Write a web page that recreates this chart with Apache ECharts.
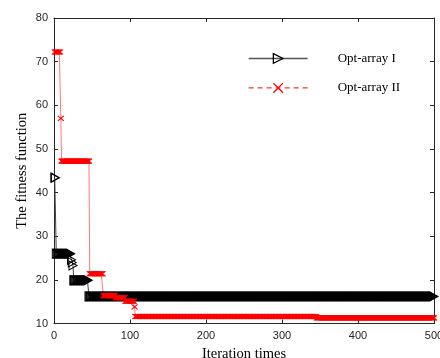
<!DOCTYPE html>
<html><head><meta charset="utf-8">
<script src="https://cdn.jsdelivr.net/npm/echarts@6/dist/echarts.min.js"></script>
<style>html,body{margin:0;padding:0;background:#fff}#c{width:440px;height:358px}</style>
</head><body><div id="c"></div>
<script>
const seriesNames = ['Opt-array I', 'Opt-array II'];
const xTicks = [0, 100, 200, 300, 400, 500];
const yTicks = [10, 20, 30, 40, 50, 60, 70, 80];
const xTitle = 'Iteration times';
const yTitle = 'The fitness function';
// Step curves: iteration at which each fitness level begins, and the level
const arr1Start = [1, 3, 23, 24, 25, 26, 46];
const arr1Value = [43.4, 26.0, 24.6, 24.0, 23.3, 19.9, 16.2];
const arr2Start = [1, 9, 10, 47, 65, 81, 94, 106, 107, 346];
const arr2Value = [72.2, 57.0, 47.2, 21.4, 16.4, 15.9, 15.1, 13.8, 11.6, 11.3];
const lastIter = 500;

function expand(starts, values) {
  const out = [];
  let k = 0;
  for (let it = starts[0]; it <= lastIter; it++) {
    while (k + 1 < starts.length && starts[k + 1] <= it) k++;
    out.push([it, values[k]]);
  }
  return out;
}
const data1 = expand(arr1Start, arr1Value);
const data2 = expand(arr2Start, arr2Value);

const axisColor = '#262626';
const triPath = 'path://M0,0 L10,5 L0,10 Z';
const xPath = 'path://M0,0 L10,10 M10,0 L0,10';

const chart = echarts.init(document.getElementById('c'), null, {renderer: 'canvas'});
chart.setOption({
  animation: false,
  backgroundColor: '#fff',
  grid: {left: 54, right: 6, top: 18, bottom: 34.5, containLabel: false, outerBoundsMode: 'none'},
  legend: {
    left: 243, top: 47, orient: 'vertical',
    itemWidth: 59, itemHeight: 12, itemGap: 16.4,
    textStyle: {fontFamily: 'Liberation Serif', fontSize: 13, color: '#000', padding: [0, 0, 0, 25]},
    data: [
      {name: seriesNames[0], itemStyle: {color: 'rgba(0,0,0,0)', borderColor: '#000', borderWidth: 1.3}, lineStyle: {color: '#555', width: 1.3, type: 'solid'}},
      {name: seriesNames[1], itemStyle: {color: '#f00', borderColor: '#f00', borderWidth: 1.3}, lineStyle: {color: '#f00', width: 1, type: [5, 4]}}
    ]
  },
  xAxis: [{
    type: 'value', min: 0, max: 500, interval: 100,
    name: xTitle, nameLocation: 'middle', nameGap: 22,
    nameTextStyle: {fontFamily: 'Liberation Serif', fontSize: 14.5, color: '#000'},
    axisLine: {show: true, onZero: false, lineStyle: {color: axisColor, width: 1}},
    axisTick: {show: true, inside: true, length: 4, lineStyle: {color: axisColor}},
    axisLabel: {fontFamily: 'Liberation Sans', fontSize: 11, color: axisColor, margin: 7,
      formatter: v => xTicks.includes(v) ? String(v) : ''},
    splitLine: {show: false}
  }, {
    type: 'value', min: 0, max: 500, interval: 100, position: 'top',
    axisLine: {show: true, onZero: false, lineStyle: {color: axisColor, width: 1}},
    axisTick: {show: true, inside: true, length: 4, lineStyle: {color: axisColor}},
    axisLabel: {show: false}, splitLine: {show: false}
  }],
  yAxis: [{
    type: 'value', min: 10, max: 80, interval: 10,
    name: yTitle, nameLocation: 'middle', nameGap: 24, nameMoveOverlap: false,
    nameTextStyle: {fontFamily: 'Liberation Serif', fontSize: 14.5, color: '#000'},
    axisLine: {show: true, onZero: false, lineStyle: {color: axisColor, width: 1}},
    axisTick: {show: true, inside: true, length: 4, lineStyle: {color: axisColor}},
    axisLabel: {fontFamily: 'Liberation Sans', fontSize: 11, color: axisColor, margin: 6,
      formatter: v => yTicks.includes(v) ? String(v) : ''},
    splitLine: {show: false}
  }, {
    type: 'value', min: 10, max: 80, interval: 10, position: 'right',
    axisLine: {show: true, onZero: false, lineStyle: {color: axisColor, width: 1}},
    axisTick: {show: true, inside: true, length: 4, lineStyle: {color: axisColor}},
    axisLabel: {show: false}, splitLine: {show: false}
  }],
  series: [{
    name: seriesNames[0], type: 'line', data: data1,
    symbol: triPath, symbolSize: [8, 9], showAllSymbol: true,
    itemStyle: {color: 'rgba(0,0,0,0)', borderColor: '#000', borderWidth: 1},
    lineStyle: {color: '#444', width: 1},
    emphasis: {disabled: true}
  }, {
    name: seriesNames[1], type: 'line', data: data2,
    symbol: xPath, symbolSize: [6, 5], showAllSymbol: true,
    itemStyle: {color: '#f00', borderColor: '#f00', borderWidth: 1},
    lineStyle: {color: '#f55', width: 0.8},
    emphasis: {disabled: true}
  }]
});
</script></body></html>
